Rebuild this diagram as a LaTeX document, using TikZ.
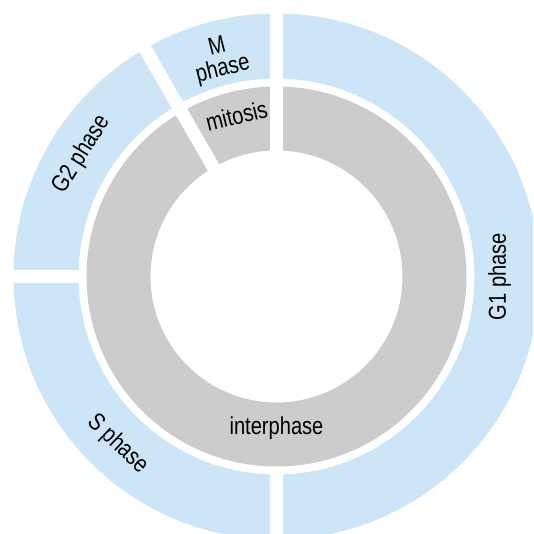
\documentclass[tikz,border=0pt]{standalone}
\usepackage{fontspec}
\setmainfont[FakeStretch=0.82]{Liberation Sans}

\definecolor{phaseblue}{RGB}{204,230,248}
\definecolor{ringgray}{RGB}{204,204,204}

\tikzset{
  label/.style={font=\fontsize{24.5}{23}\selectfont, align=center, inner sep=0pt},
  gap/.style={white, line width=13}
}

\begin{document}
\begin{tikzpicture}[x=1pt,y=1pt]

% 画布
\useasboundingbox (-276.5,-257.5) rectangle (256.5,276.5);
\clip (-276.5,-257.5) rectangle (256.5,276.5);

% 外环：细胞周期各期
\fill[phaseblue, even odd rule] (0,0) circle[radius=263] (0,0) circle[radius=198];

% 内环：间期与分裂期
\fill[ringgray, even odd rule] (0,0) circle[radius=190] (0,0) circle[radius=126];

% 分隔缝
\foreach \a in {90,120}
  \draw[gap] (0,0) -- (\a:280);
\foreach \a in {180,270}
  \draw[gap] (\a:194) -- (\a:280);

% 外环文字
\node[label, rotate=90] (g1) at (0:223) {G1 phase};
\node[label, rotate=-43.5] (s) at (226.5:231) {S phase};
\node[label, rotate=58] (g2) at (148:230) {G2 phase};
\node[label, rotate=14] (m) at (104.5:225) {M\\phase};

% 内环文字
\node[label] (interphase) at (0,-151.6) {interphase};
\node[label, rotate=14] (mitosis) at (104:165.5) {mitosis};

\end{tikzpicture}
\end{document}
